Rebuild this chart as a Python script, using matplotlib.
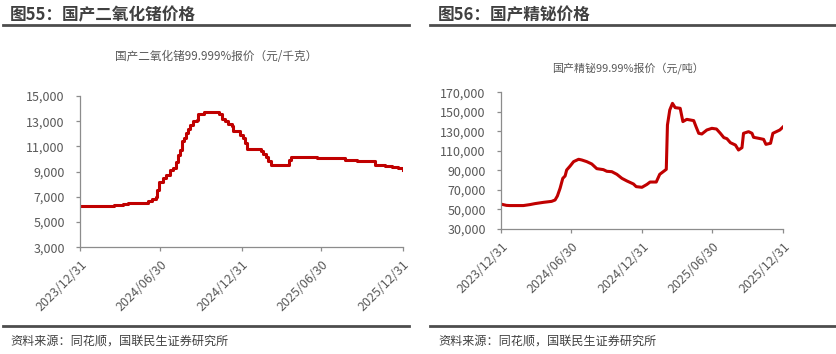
import matplotlib
matplotlib.use("Agg")
import matplotlib.pyplot as plt
from matplotlib.ticker import FuncFormatter
from matplotlib.lines import Line2D
import pandas as pd

plt.rcParams['font.family'] = ['Noto Sans CJK SC', 'DejaVu Sans']

# ---------------- data ----------------
ge_dates = ["2023-12-31", "2024-03-16", "2024-04-07", "2024-04-18", "2024-05-30", "2024-06-03",
            "2024-06-10", "2024-06-20", "2024-06-23", "2024-06-28", "2024-07-07", "2024-07-13",
            "2024-07-22", "2024-07-29", "2024-08-04", "2024-08-08", "2024-08-14", "2024-08-17",
            "2024-08-23", "2024-08-27", "2024-09-01", "2024-09-05", "2024-09-11", "2024-09-20",
            "2024-09-24", "2024-10-07", "2024-11-06", "2024-11-11", "2024-11-16", "2024-11-23",
            "2024-12-01", "2024-12-09", "2024-12-12", "2024-12-27", "2025-01-04", "2025-01-08",
            "2025-01-13", "2025-02-09", "2025-02-12", "2025-02-18", "2025-02-24", "2025-03-02",
            "2025-03-07", "2025-04-16", "2025-04-18", "2025-04-23", "2025-06-15", "2025-06-19",
            "2025-08-18", "2025-08-22", "2025-09-18", "2025-09-19", "2025-10-24", "2025-10-29",
            "2025-11-21", "2025-12-06", "2025-12-21", "2025-12-31"]
ge_values = [6250, 6350, 6400, 6500, 6500, 6700,
             6850, 7000, 7550, 8200, 8500, 8700,
             9100, 9300, 9800, 10300, 10700, 11400,
             11700, 12050, 12400, 12700, 13050, 13100,
             13550, 13730, 13730, 13550, 13200, 13050,
             12800, 12600, 12250, 11900, 11650, 11250,
             10770, 10770, 10600, 10400, 10150, 9870,
             9550, 9550, 9900, 10200, 10200, 10050,
             10050, 9900, 9900, 9820, 9820, 9520,
             9450, 9350, 9250, 9100]

bi_dates = ["2023-12-31", "2024-01-14", "2024-01-23", "2024-02-27", "2024-03-15", "2024-03-28",
            "2024-04-19", "2024-05-10", "2024-05-19", "2024-05-25", "2024-06-01", "2024-06-08",
            "2024-06-14", "2024-06-18", "2024-06-27", "2024-07-06", "2024-07-19", "2024-07-27",
            "2024-08-09", "2024-08-22", "2024-09-04", "2024-09-21", "2024-09-30", "2024-10-13",
            "2024-10-26", "2024-11-08", "2024-11-21", "2024-12-08", "2024-12-15", "2024-12-30",
            "2025-01-12", "2025-01-20", "2025-02-05", "2025-02-14", "2025-02-22", "2025-03-03",
            "2025-03-06", "2025-03-12", "2025-03-19", "2025-03-26", "2025-04-08", "2025-04-15",
            "2025-04-25", "2025-05-13", "2025-05-19", "2025-05-26", "2025-06-03", "2025-06-16",
            "2025-06-29", "2025-07-11", "2025-07-21", "2025-07-30", "2025-08-07", "2025-08-16",
            "2025-08-29", "2025-09-06", "2025-09-15", "2025-09-19", "2025-10-02", "2025-10-11",
            "2025-10-15", "2025-10-28", "2025-11-10", "2025-11-16", "2025-11-28", "2025-12-04",
            "2025-12-13", "2025-12-22", "2025-12-31"]
bi_values = [55500, 54200, 54000, 54000, 55000, 56000,
             57300, 58300, 59700, 63800, 71700, 81900,
             84300, 90400, 94500, 99000, 101400, 100700,
             99000, 96600, 91800, 90800, 89100, 88700,
             86000, 81900, 79200, 76100, 73400, 72700,
             75700, 78100, 78100, 86000, 88400, 91100,
             136500, 151900, 158700, 154300, 153600, 140000,
             142300, 141000, 134800, 128000, 127300, 131400,
             133100, 132400, 128000, 123600, 122500, 118400,
             116000, 110900, 113300, 128000, 129700, 128000,
             123900, 122900, 121800, 116700, 117800, 128000,
             129700, 131400, 134800]

xtick_labels = ["2023/12/31", "2024/06/30", "2024/12/31", "2025/06/30", "2025/12/31"]
ge_yticks = [3000, 5000, 7000, 9000, 11000, 13000, 15000]
bi_yticks = [30000, 50000, 70000, 90000, 110000, 130000, 150000, 170000]

titles = ["图55：国产二氧化锗价格", "图56：国产精铋价格"]
subtitles = ["国产二氧化锗99.999%报价（元/千克）", "国产精铋99.99%报价（元/吨）"]
source = "资料来源：同花顺，国联民生证券研究所"

# ---------------- figure ----------------
W, H = 837, 354
fig = plt.figure(figsize=(W / 100, H / 100), dpi=100)

RED = "#C00000"
DARK = "#404040"
TICKC = "#595959"
AXC = "#8C8C8C"

def fx(px):
    return px / W

def fy(py):
    return 1 - py / H

def style_axes(ax, yticks):
    for s in ["top", "right"]:
        ax.spines[s].set_visible(False)
    for s in ["left", "bottom"]:
        ax.spines[s].set_color(AXC)
        ax.spines[s].set_linewidth(0.9)
    ticks = pd.to_datetime(xtick_labels, format="%Y/%m/%d")
    ax.set_xticks(ticks)
    ax.set_xticklabels(xtick_labels, rotation=45, ha="right", rotation_mode="anchor")
    ax.set_xlim(ticks[0], ticks[-1])
    ax.set_yticks(yticks)
    ax.set_ylim(yticks[0], yticks[-1])
    ax.yaxis.set_major_formatter(FuncFormatter(lambda v, p: f"{int(v):,}"))
    ax.tick_params(axis="both", colors=AXC, labelcolor=TICKC, labelsize=9, length=3, width=0.9)
    ax.tick_params(axis="x", pad=5)
    ax.tick_params(axis="y", pad=8)

# left axes
ax1 = fig.add_axes([fx(80), fy(247.3), fx(402.7) - fx(80), fy(96) - fy(247.3)])
ax1.plot(pd.to_datetime(ge_dates), ge_values, color=RED, lw=2.2, drawstyle="steps-post")
style_axes(ax1, ge_yticks)

# right axes
ax2 = fig.add_axes([fx(501), fy(229), fx(783.3) - fx(501), fy(92.3) - fy(229)])
ax2.plot(pd.to_datetime(bi_dates), bi_values, color=RED, lw=2.2)
style_axes(ax2, bi_yticks)

# titles & decorations
fig.text(fx(10), fy(15), titles[0], fontsize=12, fontweight="bold", color=DARK, va="center", ha="left")
fig.text(fx(438), fy(15), titles[1], fontsize=12, fontweight="bold", color=DARK, va="center", ha="left")
fig.add_artist(Line2D([fx(3), fx(409)], [fy(24.5), fy(24.5)], color="#4D4D4D", lw=2))
fig.add_artist(Line2D([fx(430), fx(836)], [fy(24.5), fy(24.5)], color="#4D4D4D", lw=2))
fig.add_artist(Line2D([fx(3), fx(409)], [fy(326), fy(326)], color="#4D4D4D", lw=2))
fig.add_artist(Line2D([fx(430), fx(836)], [fy(326), fy(326)], color="#4D4D4D", lw=2))

fig.text(fx(216), fy(57), subtitles[0], fontsize=8.4, color=TICKC, ha="center", va="center")
fig.text(fx(627.5), fy(68), subtitles[1], fontsize=7.9, color=TICKC, ha="center", va="center")

fig.text(fx(10), fy(341), source, fontsize=8.7, color=DARK, ha="left", va="center")
fig.text(fx(438), fy(341), source, fontsize=8.7, color=DARK, ha="left", va="center")

fig.savefig("out.png", dpi=100, facecolor="white")
